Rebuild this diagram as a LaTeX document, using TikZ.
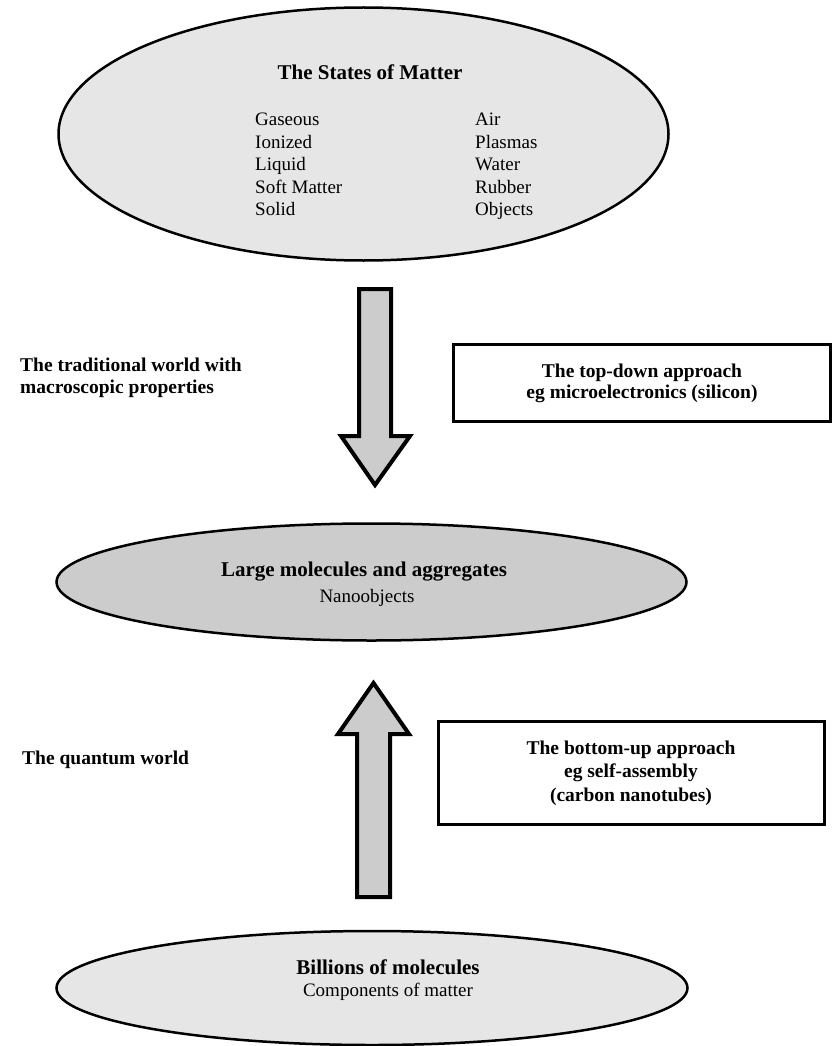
\documentclass[tikz,border=0pt]{standalone}
\usepackage{fontspec}
\setmainfont{Liberation Serif}
\usetikzlibrary{shapes.geometric}
\definecolor{lightfill}{HTML}{E6E6E6}
\definecolor{midfill}{HTML}{CCCCCC}
\tikzset{
  oval/.style={ellipse, draw=black, line width=2.5pt, inner sep=0pt},
  titletext/.style={font=\fontsize{21}{24}\selectfont\bfseries, inner sep=0pt},
  bodytext/.style={font=\fontsize{19}{22.5}\selectfont, inner sep=0pt, align=left},
  sidetext/.style={font=\fontsize{19.5}{22}\selectfont\bfseries, inner sep=0pt, align=left},
  infobox/.style={draw=black, line width=3pt, fill=white, font=\fontsize{19.5}{21}\selectfont\bfseries, align=center, inner sep=0pt},
  blockarrow/.style={draw=black, fill=midfill, line width=4pt, line join=miter}
}
\begin{document}
\begin{tikzpicture}[x=1pt, y=-1pt]
\useasboundingbox (0,0) rectangle (836,1046);

% top ellipse
\node[oval, fill=lightfill, minimum width=610pt, minimum height=253pt] (states) at (363.5,134) {};
\node[titletext] (statestitle) at (370,72) {The States of Matter};
\node[bodytext, anchor=north west] (stateslist) at (255,110) {%
  \renewcommand\arraystretch{1}%
  \begin{tabular}{@{}p{220pt}@{}l@{}}
  Gaseous & Air\\
  Ionized & Plasmas\\
  Liquid & Water\\
  Soft Matter & Rubber\\
  Solid & Objects
  \end{tabular}};

% down arrow
\coordinate (da1) at (359,289);
\coordinate (da2) at (391,289);
\coordinate (da3) at (391,436);
\coordinate (da4) at (410,436);
\coordinate (da5) at (375,485);
\coordinate (da6) at (341,436);
\coordinate (da7) at (359,436);
\draw[blockarrow] (da1) -- (da2) -- (da3) -- (da4) -- (da5) -- (da6) -- (da7) -- cycle;

% side labels
\node[sidetext, anchor=west] (traditional) at (20,378) {The traditional world with\\macroscopic properties};
\node[sidetext, anchor=west] (quantum) at (22,760) {The quantum world};

% top-down box
\node[infobox, minimum width=377pt, minimum height=77pt] (topdown) at (642,383) {The top-down approach\\eg microelectronics (silicon)};

% middle ellipse
\node[oval, fill=midfill, minimum width=630pt, minimum height=117pt] (large) at (371.5,582) {};
\node[titletext] (largetitle) at (364,572) {Large molecules and aggregates};
\node[bodytext, align=center] (nano) at (367,598) {Nanoobjects};

% up arrow
\coordinate (ua1) at (357,897);
\coordinate (ua2) at (390,897);
\coordinate (ua3) at (390,734);
\coordinate (ua4) at (409,734);
\coordinate (ua5) at (373.5,683);
\coordinate (ua6) at (338,734);
\coordinate (ua7) at (357,734);
\draw[blockarrow] (ua1) -- (ua2) -- (ua3) -- (ua4) -- (ua5) -- (ua6) -- (ua7) -- cycle;

% bottom-up box
\node[infobox, minimum width=386pt, minimum height=103pt, font=\fontsize{19.5}{23.5}\selectfont\bfseries] (bottomup) at (631,773) {The bottom-up approach\\eg self-assembly\\(carbon nanotubes)};

% bottom ellipse
\node[oval, fill=lightfill, minimum width=631pt, minimum height=114pt] (billions) at (372,988) {};
\node[titletext] (billtitle) at (388,967) {Billions of molecules};
\node[bodytext, align=center] (components) at (388,992) {Components of matter};
\end{tikzpicture}
\end{document}
